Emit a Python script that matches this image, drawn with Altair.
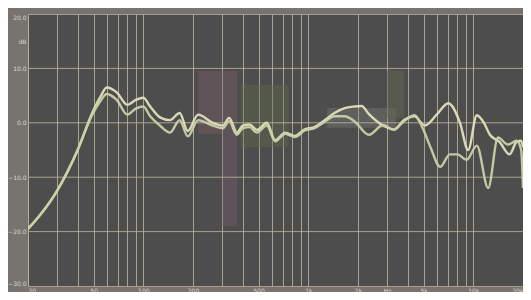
import altair as alt
import pandas as pd

# Curve A (brighter trace)
fA = [20, 23.6, 30, 40, 49, 55, 60, 69, 80, 90, 100, 110, 126, 145, 166, 186, 215, 263, 304, 331,
      369, 400, 440, 488, 560, 630, 725, 830, 950, 1090, 1260, 1440, 1660, 1900, 2100, 2330, 2840,
      3300, 3800, 4400, 5070, 6000, 7050, 8300, 9300, 10500, 11600, 12600, 14400, 16600, 18300,
      19500, 20000]
dA = [-19.5, -17, -12.5, -5, 1.8, 4.8, 6.5, 5.6, 3.3, 4.2, 4.6, 3.0, 1.0, 0.5, 1.8, -1.5, 1.5, 0.0,
      -0.5, 0.9, -1.8, -0.5, -0.3, -1.3, 0.0, -3.2, -1.8, -2.4, -1.2, -0.8, 0.5, 1.8, 2.7, 3.0, 3.1,
      1.6, -0.5, -1.2, 0.5, 1.2, -0.5, 1.5, 3.6, 0.0, -5.0, 1.4, 0.0, -2.2, -3.5, -5.8, -3.5, -3.3,
      -4.5]

# Curve B (second trace)
fB = [20, 23.6, 30, 40, 49, 55, 60, 69, 80, 90, 100, 110, 126, 145, 166, 186, 215, 263, 304, 331,
      369, 400, 440, 488, 560, 630, 725, 830, 950, 1090, 1260, 1440, 1660, 1900, 2330, 2840, 3300,
      3800, 4400, 4900, 5500, 6300, 7200, 8000, 9100, 10500, 12300, 14100, 16200, 18300, 19500,
      20000]
dB = [-19.5, -17, -12.5, -5, 1.5, 4.0, 5.3, 4.2, 1.5, 2.6, 3.0, 1.2, -0.5, -1.8, 0.5, -2.5, 0.5,
      -0.5, -1.0, 0.3, -2.2, -1.0, -0.8, -1.8, -0.5, -3.4, -2.0, -2.6, -1.4, -1.0, 0.2, 1.2, 1.2,
      0.3, -2.2, -0.4, -1.3, 0.3, 1.4, -0.8, -4.5, -8.1, -5.8, -5.8, -6.8, -4.2, -12.0, -2.7, -4.0,
      -3.3, -5.0, -12.0]

grid_freqs = [20, 30, 40, 50, 60, 70, 80, 90, 100, 200, 300, 400, 500, 600, 700, 800, 900,
              1000, 2000, 3000, 4000, 5000, 6000, 7000, 8000, 9000, 10000, 20000]
grid_db = [-20, -10, 0, 10]
tick_db = [20, 15, 10, 0, -10, -20, -30]
x_label_vals = [20, 50, 100, 200, 500, 1000, 2000, 3000, 5000, 10000, 20000]
x_label_txt = ["20", "50", "100", "200", "500", "1k", "2k", "Hz", "5k", "10k", "20k"]

# faint coloured highlight areas seen behind the traces
band_f0 = [215, 300, 390, 1300, 3000]
band_f1 = [370, 370, 760, 3400, 3800]
band_d0 = [9.5, -2, 7, 2.7, 9.6]
band_d1 = [-2, -19, -4.5, -0.9, 0.9]
band_col = ["#7c5e6c", "#7c5e6c", "#5f6b4c", "#8a8a88", "#5f6650"]
band_op = [0.4, 0.35, 0.4, 0.3, 0.6]

curves = pd.concat([
    pd.DataFrame({"f": fA, "db": dA, "s": "A"}),
    pd.DataFrame({"f": fB, "db": dB, "s": "B"}),
])
bands = pd.DataFrame({"f0": band_f0, "f1": band_f1, "d0": band_d0, "d1": band_d1,
                      "c": band_col, "o": band_op})
hgrid = pd.DataFrame({"db": grid_db})

x_expr = " : ".join(f"datum.value == {v} ? '{t}'" for v, t in zip(x_label_vals, x_label_txt)) + " : ''"
y_expr = "datum.value == 15 ? 'dB' : format(datum.value, '.1f')"

lab_color = "#dcd8cf"
grid_color = "#b9b19c"

xscale = alt.Scale(type="log", domain=[20, 20000])
yscale = alt.Scale(domain=[-30, 20])

xaxis = alt.Axis(values=grid_freqs, labelExpr=x_expr, grid=True, gridColor=grid_color,
                 gridOpacity=0.85, gridWidth=1, ticks=False, domain=False, labelFontSize=6,
                 labelColor=lab_color, labelPadding=1, labelOverlap=False, labelFlush=True,
                 labelFont="DejaVu Sans", title=None)
yaxis = alt.Axis(values=tick_db, labelExpr=y_expr, grid=False, ticks=False, domain=False,
                 labelFontSize=6, labelColor=lab_color, labelPadding=2, labelOverlap=False,
                 labelFlush=True, labelFont="DejaVu Sans", title=None)

rects = alt.Chart(bands).mark_rect(clip=True).encode(
    x=alt.X("f0:Q", scale=xscale, axis=xaxis),
    x2="f1:Q",
    y=alt.Y("d0:Q", scale=yscale, axis=yaxis),
    y2="d1:Q",
    color=alt.Color("c:N", scale=None),
    opacity=alt.Opacity("o:Q", scale=None),
)

rules = alt.Chart(hgrid).mark_rule(color=grid_color, opacity=0.85, strokeWidth=1).encode(
    y=alt.Y("db:Q", scale=yscale)
)

lines = alt.Chart(curves).mark_line(strokeWidth=2.4, interpolate="monotone", clip=True,
                                    opacity=0.95).encode(
    x=alt.X("f:Q", scale=xscale),
    y=alt.Y("db:Q", scale=yscale),
    color=alt.Color("s:N", scale=alt.Scale(domain=["A", "B"], range=["#e0e0bc", "#c9d1a7"]),
                    legend=None),
    detail="s:N",
)

chart = alt.layer(rects, rules, lines).properties(
    width=495,
    height=272,
    background="#77736f",
    padding={"left": 20, "top": 6, "right": 0, "bottom": 6},
    autosize=alt.AutoSizeParams(type="none"),
).configure_view(fill="#4d4d4d", stroke="#a39d8e", strokeWidth=1)

chart.save("out.html", embed_options={"renderer": "svg", "actions": False})
